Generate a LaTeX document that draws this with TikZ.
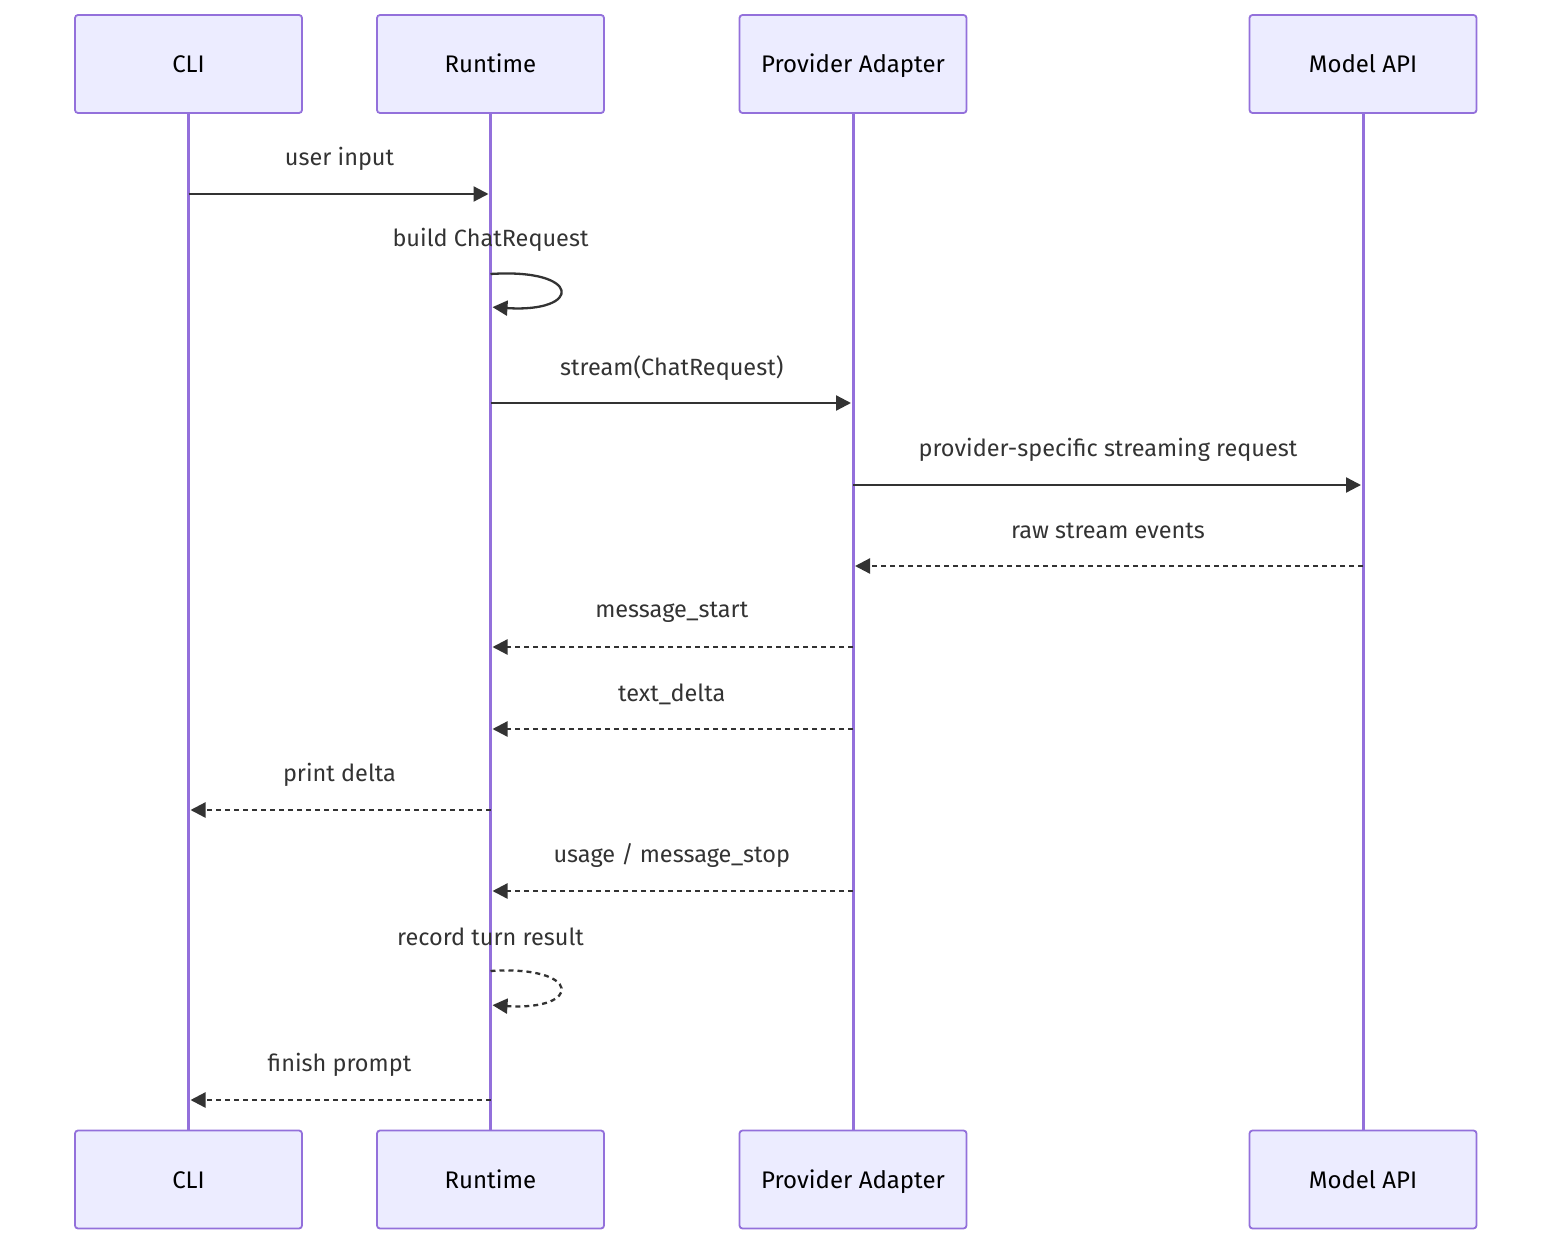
\documentclass[tikz,border=0pt]{standalone}
\usepackage{fontspec}
\setmainfont{Fira Sans}
\usetikzlibrary{arrows.meta,calc}
\definecolor{actfill}{HTML}{ECECFF}
\definecolor{actline}{HTML}{9370DB}
\definecolor{msgcol}{HTML}{333333}
\tikzset{
  actor/.style={draw=actline, fill=actfill, line width=1.8pt, rounded corners=3pt,
    minimum width=227pt, minimum height=98pt, inner sep=0pt, text height=17pt, text depth=0pt,
    font=\fontsize{24}{28}\selectfont, text=black},
  life/.style={draw=actline, line width=3pt},
  msg/.style={draw=msgcol, line width=2.3pt, -{Triangle[length=15pt,width=15pt]}, shorten >=2pt},
  ret/.style={msg, dash pattern=on 5pt off 4pt},
  txt/.style={font=\fontsize{23.5}{28}\selectfont, text=msgcol, inner sep=0pt},
  lbl/.style={txt, midway, yshift=35pt}
}
\begin{document}
\begin{tikzpicture}[x=1pt,y=-1pt]
\useasboundingbox (0,0) rectangle (1568,1260);
% actors top
\node[actor] (cliT) at (188.5,64) {CLI};
\node[actor] (rtT) at (490.5,64) {Runtime};
\node[actor] (paT) at (853,64) {Provider Adapter};
\node[actor] (apiT) at (1363,64) {Model API};
% actors bottom
\node[actor] (cliB) at (188.5,1179.5) {CLI};
\node[actor] (rtB) at (490.5,1179.5) {Runtime};
\node[actor] (paB) at (853,1179.5) {Provider Adapter};
\node[actor] (apiB) at (1363,1179.5) {Model API};
% lifelines
\draw[life] (cliT.south) -- (cliB.north);
\draw[life] (rtT.south) -- (rtB.north);
\draw[life] (paT.south) -- (paB.north);
\draw[life] (apiT.south) -- (apiB.north);
% messages
\draw[msg] (cliT.south |- 0,194) -- node[lbl] (l1) {user input} (rtT.south |- 0,194);

\node[txt] (l2) at (rtT.south |- 0,240) {build ChatRequest};
\coordinate (s2a) at (rtT.south |- 0,274);
\coordinate (s2b) at (rtT.south |- 0,307);
\draw[msg] (s2a) .. controls ($(s2a)+(92,-6)$) and ($(s2b)+(92,6)$) .. (s2b);

\draw[msg] (rtT.south |- 0,403) -- node[lbl] (l3) {stream(ChatRequest)} (paT.south |- 0,403);

\draw[msg] (paT.south |- 0,485) -- node[lbl] (l4) {provider-specific streaming request} (apiT.south |- 0,485);

\draw[ret] (apiT.south |- 0,566) -- node[lbl] (l5) {raw stream events} (paT.south |- 0,566);

\draw[ret] (paT.south |- 0,647) -- node[lbl] (l6) {message\_start} (rtT.south |- 0,647);

\draw[ret] (paT.south |- 0,729) -- node[lbl] (l7) {text\_delta} (rtT.south |- 0,729);

\draw[ret] (rtT.south |- 0,810) -- node[lbl] (l8) {print delta} (cliT.south |- 0,810);

\draw[ret] (paT.south |- 0,891) -- node[lbl] (l9) {usage / message\_stop} (rtT.south |- 0,891);

\node[txt] (l10) at (rtT.south |- 0,937) {record turn result};
\coordinate (s10a) at (rtT.south |- 0,971);
\coordinate (s10b) at (rtT.south |- 0,1005);
\draw[ret] (s10a) .. controls ($(s10a)+(92,-6)$) and ($(s10b)+(92,6)$) .. (s10b);

\draw[ret] (rtT.south |- 0,1100) -- node[lbl] (l11) {finish prompt} (cliT.south |- 0,1100);
\end{tikzpicture}
\end{document}
